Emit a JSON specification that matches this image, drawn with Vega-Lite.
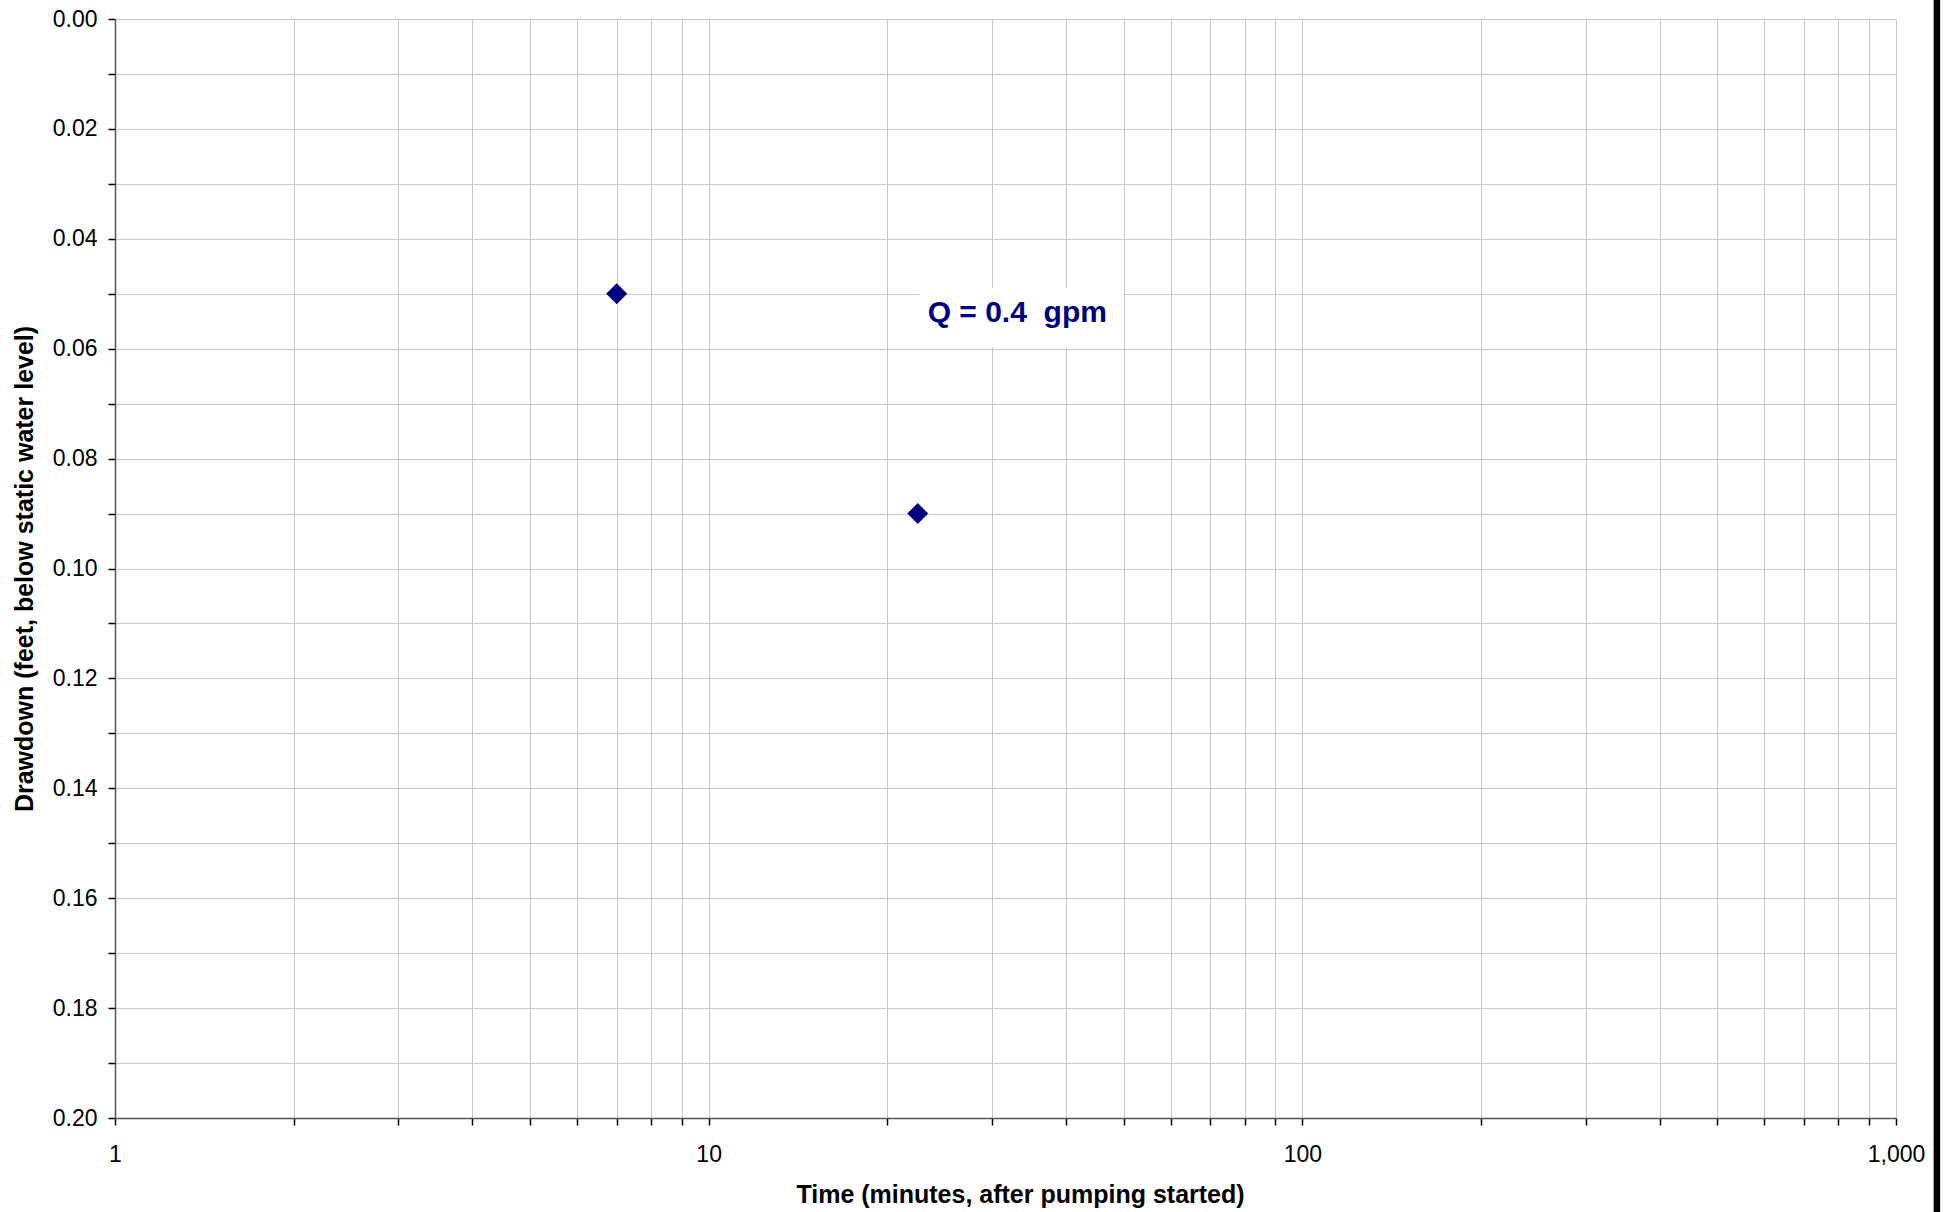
{
  "$schema": "https://vega.github.io/schema/vega-lite/v6.json",
  "width": 1781,
  "height": 1099,
  "autosize": {"type": "none"},
  "padding": {"left": 115, "top": 19, "right": 52, "bottom": 94},
  "background": "white",
  "config": {
    "view": {"stroke": null},
    "font": "Liberation Sans",
    "axis": {
      "labelFont": "Liberation Sans",
      "titleFont": "Liberation Sans",
      "labelFontSize": 23,
      "labelColor": "black",
      "titleFontSize": 25,
      "titleFontWeight": "bold",
      "titleColor": "black",
      "grid": true,
      "gridColor": "#c8c8c8",
      "gridWidth": 1,
      "gridOpacity": 1,
      "domainColor": "#555555",
      "domainWidth": 1.5,
      "tickColor": "black",
      "tickWidth": 1.5,
      "tickSize": 7,
      "labelOverlap": false,
      "labelFlush": false
    }
  },
  "datasets": {
    "points": [
      {"time": 7.0, "drawdown": 0.05},
      {"time": 22.5, "drawdown": 0.09}
    ],
    "note": [
      {"label": "Q = 0.4 \u00a0gpm"}
    ]
  },
  "layer": [
    {
      "data": {"name": "note"},
      "mark": {"type": "rect", "fill": "white"},
      "encoding": {
        "x": {"datum": 22.65, "type": "quantitative", "scale": {"type": "log", "domain": [1, 1000]}},
        "x2": {"datum": 49.8},
        "y": {"datum": 0.049, "type": "quantitative", "scale": {"domain": [0, 0.2], "reverse": true}},
        "y2": {"datum": 0.0597}
      }
    },
    {
      "data": {"name": "points"},
      "mark": {"type": "point", "shape": "diamond", "filled": true, "size": 440, "color": "#000080", "opacity": 1, "strokeWidth": 0},
      "encoding": {
        "x": {
          "field": "time",
          "type": "quantitative",
          "scale": {"type": "log", "domain": [1, 1000]},
          "axis": {
            "grid": true,
            "values": [1, 2, 3, 4, 5, 6, 7, 8, 9, 10, 20, 30, 40, 50, 60, 70, 80, 90, 100, 200, 300, 400, 500, 600, 700, 800, 900, 1000],
            "labelExpr": "(datum.value == 1 || datum.value == 10 || datum.value == 100 || datum.value == 1000) ? format(datum.value, ',') : ''",
            "labelPadding": 18,
            "title": "Time (minutes, after pumping started)",
            "titleBaseline": "alphabetic",
            "titleY": 84,
            "titleX": 905,
            "titleAnchor": "start",
            "titleAlign": "center"
          }
        },
        "y": {
          "field": "drawdown",
          "type": "quantitative",
          "scale": {"domain": [0, 0.2], "reverse": true},
          "axis": {
            "grid": true,
            "values": [0, 0.01, 0.02, 0.03, 0.04, 0.05, 0.06, 0.07, 0.08, 0.09, 0.1, 0.11, 0.12, 0.13, 0.14, 0.15, 0.16, 0.17, 0.18, 0.19, 0.2],
            "labelExpr": "(round(datum.value * 100) % 2 == 0) ? format(datum.value, '.2f') : ''",
            "labelPadding": 11,
            "title": "Drawdown (feet, below static water level)",
            "titleBaseline": "alphabetic",
            "titleX": -83
          }
        }
      }
    },
    {
      "data": {"name": "note"},
      "mark": {"type": "text", "font": "Liberation Sans", "fontSize": 30, "fontWeight": "bold", "color": "#000080", "align": "center", "baseline": "alphabetic"},
      "encoding": {
        "x": {"datum": 33.1, "type": "quantitative"},
        "y": {"datum": 0.0551, "type": "quantitative"},
        "text": {"field": "label"}
      }
    },
    {
      "data": {"name": "note"},
      "mark": {"type": "rule", "color": "black", "strokeWidth": 6.5, "clip": false},
      "encoding": {
        "x": {"datum": 1172, "type": "quantitative"},
        "y": {"datum": -0.01, "type": "quantitative"},
        "y2": {"datum": 0.23}
      }
    }
  ]
}
